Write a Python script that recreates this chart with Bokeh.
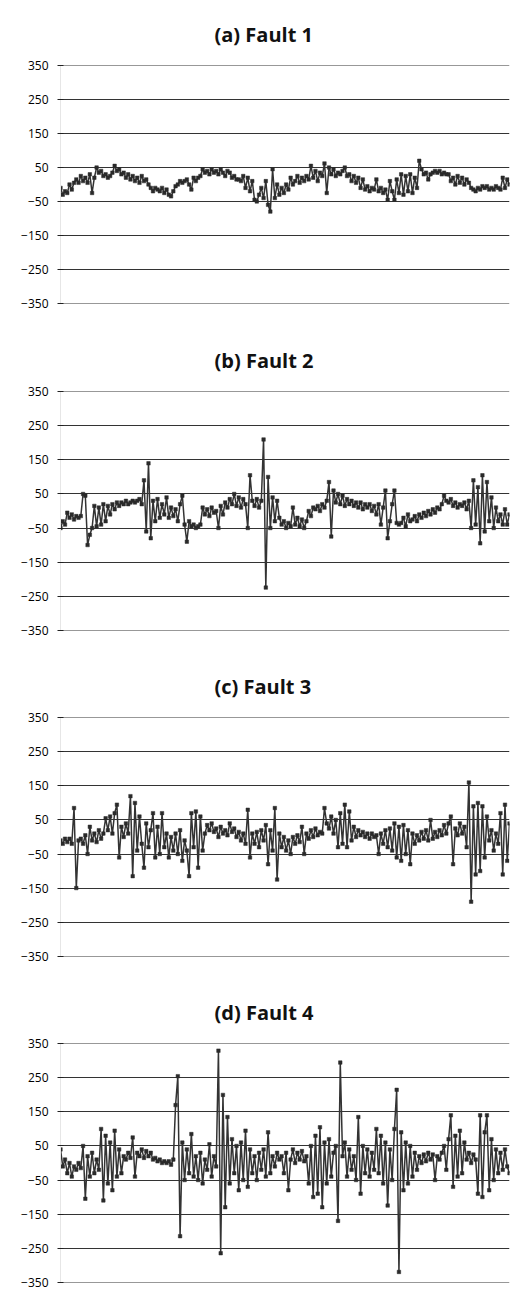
from bokeh.plotting import figure
from bokeh.layouts import column
from bokeh.models import Range1d, FixedTicker, Title
from bokeh.embed import file_html
from bokeh.resources import INLINE

# ---- data ----
titles = ["(a) Fault 1", "(b) Fault 2", "(c) Fault 3", "(d) Fault 4"]
y_ticks = [-350, -250, -150, -50, 50, 150, 250, 350]

fault1 = [-10, -30, -20, -25, 0, -15, 5, 15, 5, 25, 10, 20, 5, 30, -25, 20, 50, 35, 40, 25,
          30, 20, 25, 35, 55, 40, 45, 30, 35, 20, 30, 15, 25, 10, 20, 5, 25, 10, 15, 0,
          -10, -20, -10, -15, -20, -10, -25, -15, -30, -35, -20, -5, 0, 10, 5, 10, 15, 0, -15, 20,
          10, 20, 25, 45, 35, 40, 30, 45, 35, 40, 30, 45, 35, 25, 40, 35, 20, 25, 15, 15,
          10, 25, -10, 20, -20, 10, -45, -50, -30, -10, -40, 10, -60, -80, 45, -40, 0, -30, -10, -25,
          0, -15, 20, 0, 10, 25, 5, 20, 10, 25, 15, 55, 20, 40, 10, 35, 25, 62, -25, 50,
          30, 45, 25, 35, 30, 40, 50, 25, 30, 10, 25, 5, 20, -10, 15, -15, -5, -20, -10, -15,
          15, -20, -10, -25, -15, -45, 10, -20, -45, 15, -25, 30, -30, 25, -20, 30, -25, 20, -10, 70,
          45, 30, 35, 15, 30, 35, 40, 35, 40, 30, 35, 30, 30, 10, 20, 0, 25, 5, 20, 0,
          15, 5, -10, -15, -20, -10, -15, -5, -10, -5, -15, -10, -15, -5, -10, -15, 20, -10, 15, 0]

fault2 = [-50, -30, -40, -5, -20, -10, -25, -15, -20, -15, 50, 45, -100, -70, -50, 15, -45, 10, -40, 20,
          -30, 15, -10, 20, 5, 25, 15, 25, 20, 30, 20, 25, 30, 25, 30, 35, 20, 90, -60, 140,
          -80, 30, -30, 35, -20, 20, -10, 40, -20, 10, -15, 5, -30, 20, 45, -40, -90, -30, -45, -40,
          -50, -45, -40, 10, -10, 5, -15, 10, -5, 0, -50, 15, -10, 25, 10, 35, 20, 50, 15, 40,
          10, 35, 20, -50, 105, 30, 15, 35, 10, 30, 210, -225, 100, -50, 40, -30, 30, -20, -40, -30,
          -50, -35, -45, 10, -40, -20, -45, -25, -50, -30, 0, -15, 10, 5, 15, 0, 20, 10, 30, 85,
          -75, 60, 25, 50, 20, 45, 15, 35, 20, 30, 15, 25, 10, 25, 5, 20, 10, 20, 0, 15,
          -10, 20, -40, 10, 60, -80, -30, 20, 60, -35, -40, -35, -20, -45, -10, -30, -25, -15, -30, -10,
          -20, -5, -15, 0, -10, 5, -5, 10, 5, 20, 45, 30, 25, 35, 15, 25, 10, 20, 15, 25,
          5, 30, -50, 90, -40, 70, -95, 105, -60, 85, -30, 40, -50, 10, -30, -10, -40, 5, -40, -10]

fault3 = [-10, -20, -5, -15, -5, -20, 85, -150, -10, -5, -20, 5, -50, 30, -10, 10, -15, 20, -5, 10,
          55, 20, 60, 10, 70, 95, -60, 30, 0, 40, 10, 120, -115, 100, -40, 60, -20, -90, 40, -30,
          20, 70, -60, 30, -50, 70, -30, 10, -60, 0, -40, 10, -50, 20, -70, -10, -40, -115, 70, -30,
          75, -90, 60, -40, 10, 35, 20, 40, 15, 25, 0, 30, 10, 20, 5, 40, 15, 25, 0, 15,
          -10, 10, -20, 80, -60, 10, -20, 15, -30, 20, -10, 35, -80, 20, -40, 85, -125, 10, -30, 0,
          -40, -10, -50, 0, -20, 5, -15, 30, -50, 10, -5, 20, 0, 25, 5, 15, 10, 85, 40, 25,
          60, 10, 50, -30, 70, -20, 95, -30, 75, -10, 30, 0, 20, 5, 15, 0, 10, -5, 10, 0,
          5, -50, 10, -20, 20, -30, 25, -40, 40, -60, 30, -70, 35, -50, 20, -80, 10, -20, 5, -10,
          15, -5, 20, -10, 50, -5, 15, 0, 20, 5, 35, 10, 40, 60, -80, 25, 5, 40, 10, 30,
          -30, 160, -190, 90, -110, 100, -100, 90, -60, 60, -10, 20, -40, 10, -20, 70, -110, 95, -70, 40]

fault4 = [40, -10, 10, -30, 0, -40, -10, -20, 0, -15, 50, -105, 20, -40, 30, -30, 10, -20, 100, -110,
          80, -60, 60, -80, 95, -40, 40, -30, 20, 10, 30, 15, 75, -40, 30, 20, 40, 15, 35, 20,
          30, 10, 15, 5, 10, 0, 5, 0, 5, -5, 10, 170, 255, -215, 60, -50, 40, -30, 85, -40,
          20, -50, 30, -60, 10, -20, 55, -40, 20, -10, 330, -265, 200, -130, 135, -60, 70, -30, 50, -80,
          60, -50, 95, -70, 40, -30, 20, -50, 30, -20, 40, -40, 90, -30, 20, -10, 30, 10, 20, -30,
          30, -80, 10, 40, 0, 30, 10, 35, 5, 20, -60, 50, -100, 80, -90, 105, -130, 60, -60, 70,
          -40, 30, 50, -170, 295, 20, 60, -40, 40, -20, 20, -50, 135, -90, 50, -30, 40, -40, 30, -20,
          100, -30, 80, -60, 60, -125, 40, -50, 100, 215, -320, 90, -80, 60, -60, 50, -40, 30, -20, 20,
          0, 25, 5, 30, 10, 25, -50, 20, 10, 30, 50, -20, 70, 140, -70, 80, -40, 95, -30, 60,
          10, 30, 0, 25, 10, -90, 140, -100, 90, 140, -80, 70, -50, 40, -30, 30, -20, 40, -10, -30]

series = [fault1, fault2, fault3, fault4]

# ---- layout ----
W = 521
tops = [63, 64, 64, 64]
bottoms = [23, 22, 22, 9]

figs = []
for i, (ttl, ys) in enumerate(zip(titles, series)):
    xs = list(range(len(ys)))
    p = figure(width=W, height=tops[i] + 240 + bottoms[i],
               output_backend="svg", toolbar_location=None,
               x_range=Range1d(0, len(ys) - 1), y_range=Range1d(-351, 351),
               x_axis_type=None, min_border_left=60, min_border_right=12,
               min_border_top=tops[i], min_border_bottom=bottoms[i])
    p.title = Title(text=ttl, align="left", offset=154, standoff=36,
                    text_font="Open Sans", text_font_size="20px",
                    text_font_style="bold", text_color="#111111")
    p.outline_line_color = None
    p.background_fill_color = "white"
    p.border_fill_color = "white"

    ax = p.yaxis[0]
    ax.ticker = FixedTicker(ticks=y_ticks)
    ax.major_label_text_font = "Open Sans"
    ax.major_label_text_font_size = "12px"
    ax.major_label_text_color = "#000000"
    ax.major_label_standoff = 9
    ax.axis_line_color = "#e6e6e6"
    ax.major_tick_in = 3
    ax.major_tick_out = 3
    ax.major_tick_line_color = "#222222"
    ax.minor_tick_line_color = None

    p.ygrid.ticker = FixedTicker(ticks=y_ticks)
    p.ygrid.grid_line_color = "#333333"
    p.ygrid.grid_line_width = 1

    p.line(xs, ys, line_color="#333333", line_width=1.5)
    p.scatter(xs, ys, marker="square", size=3.5, fill_color="#2a2a2a",
              line_color="#2a2a2a", line_width=0.5)
    figs.append(p)

layout = column(*figs, spacing=0)
open("out.html", "w").write(file_html(layout, INLINE))
